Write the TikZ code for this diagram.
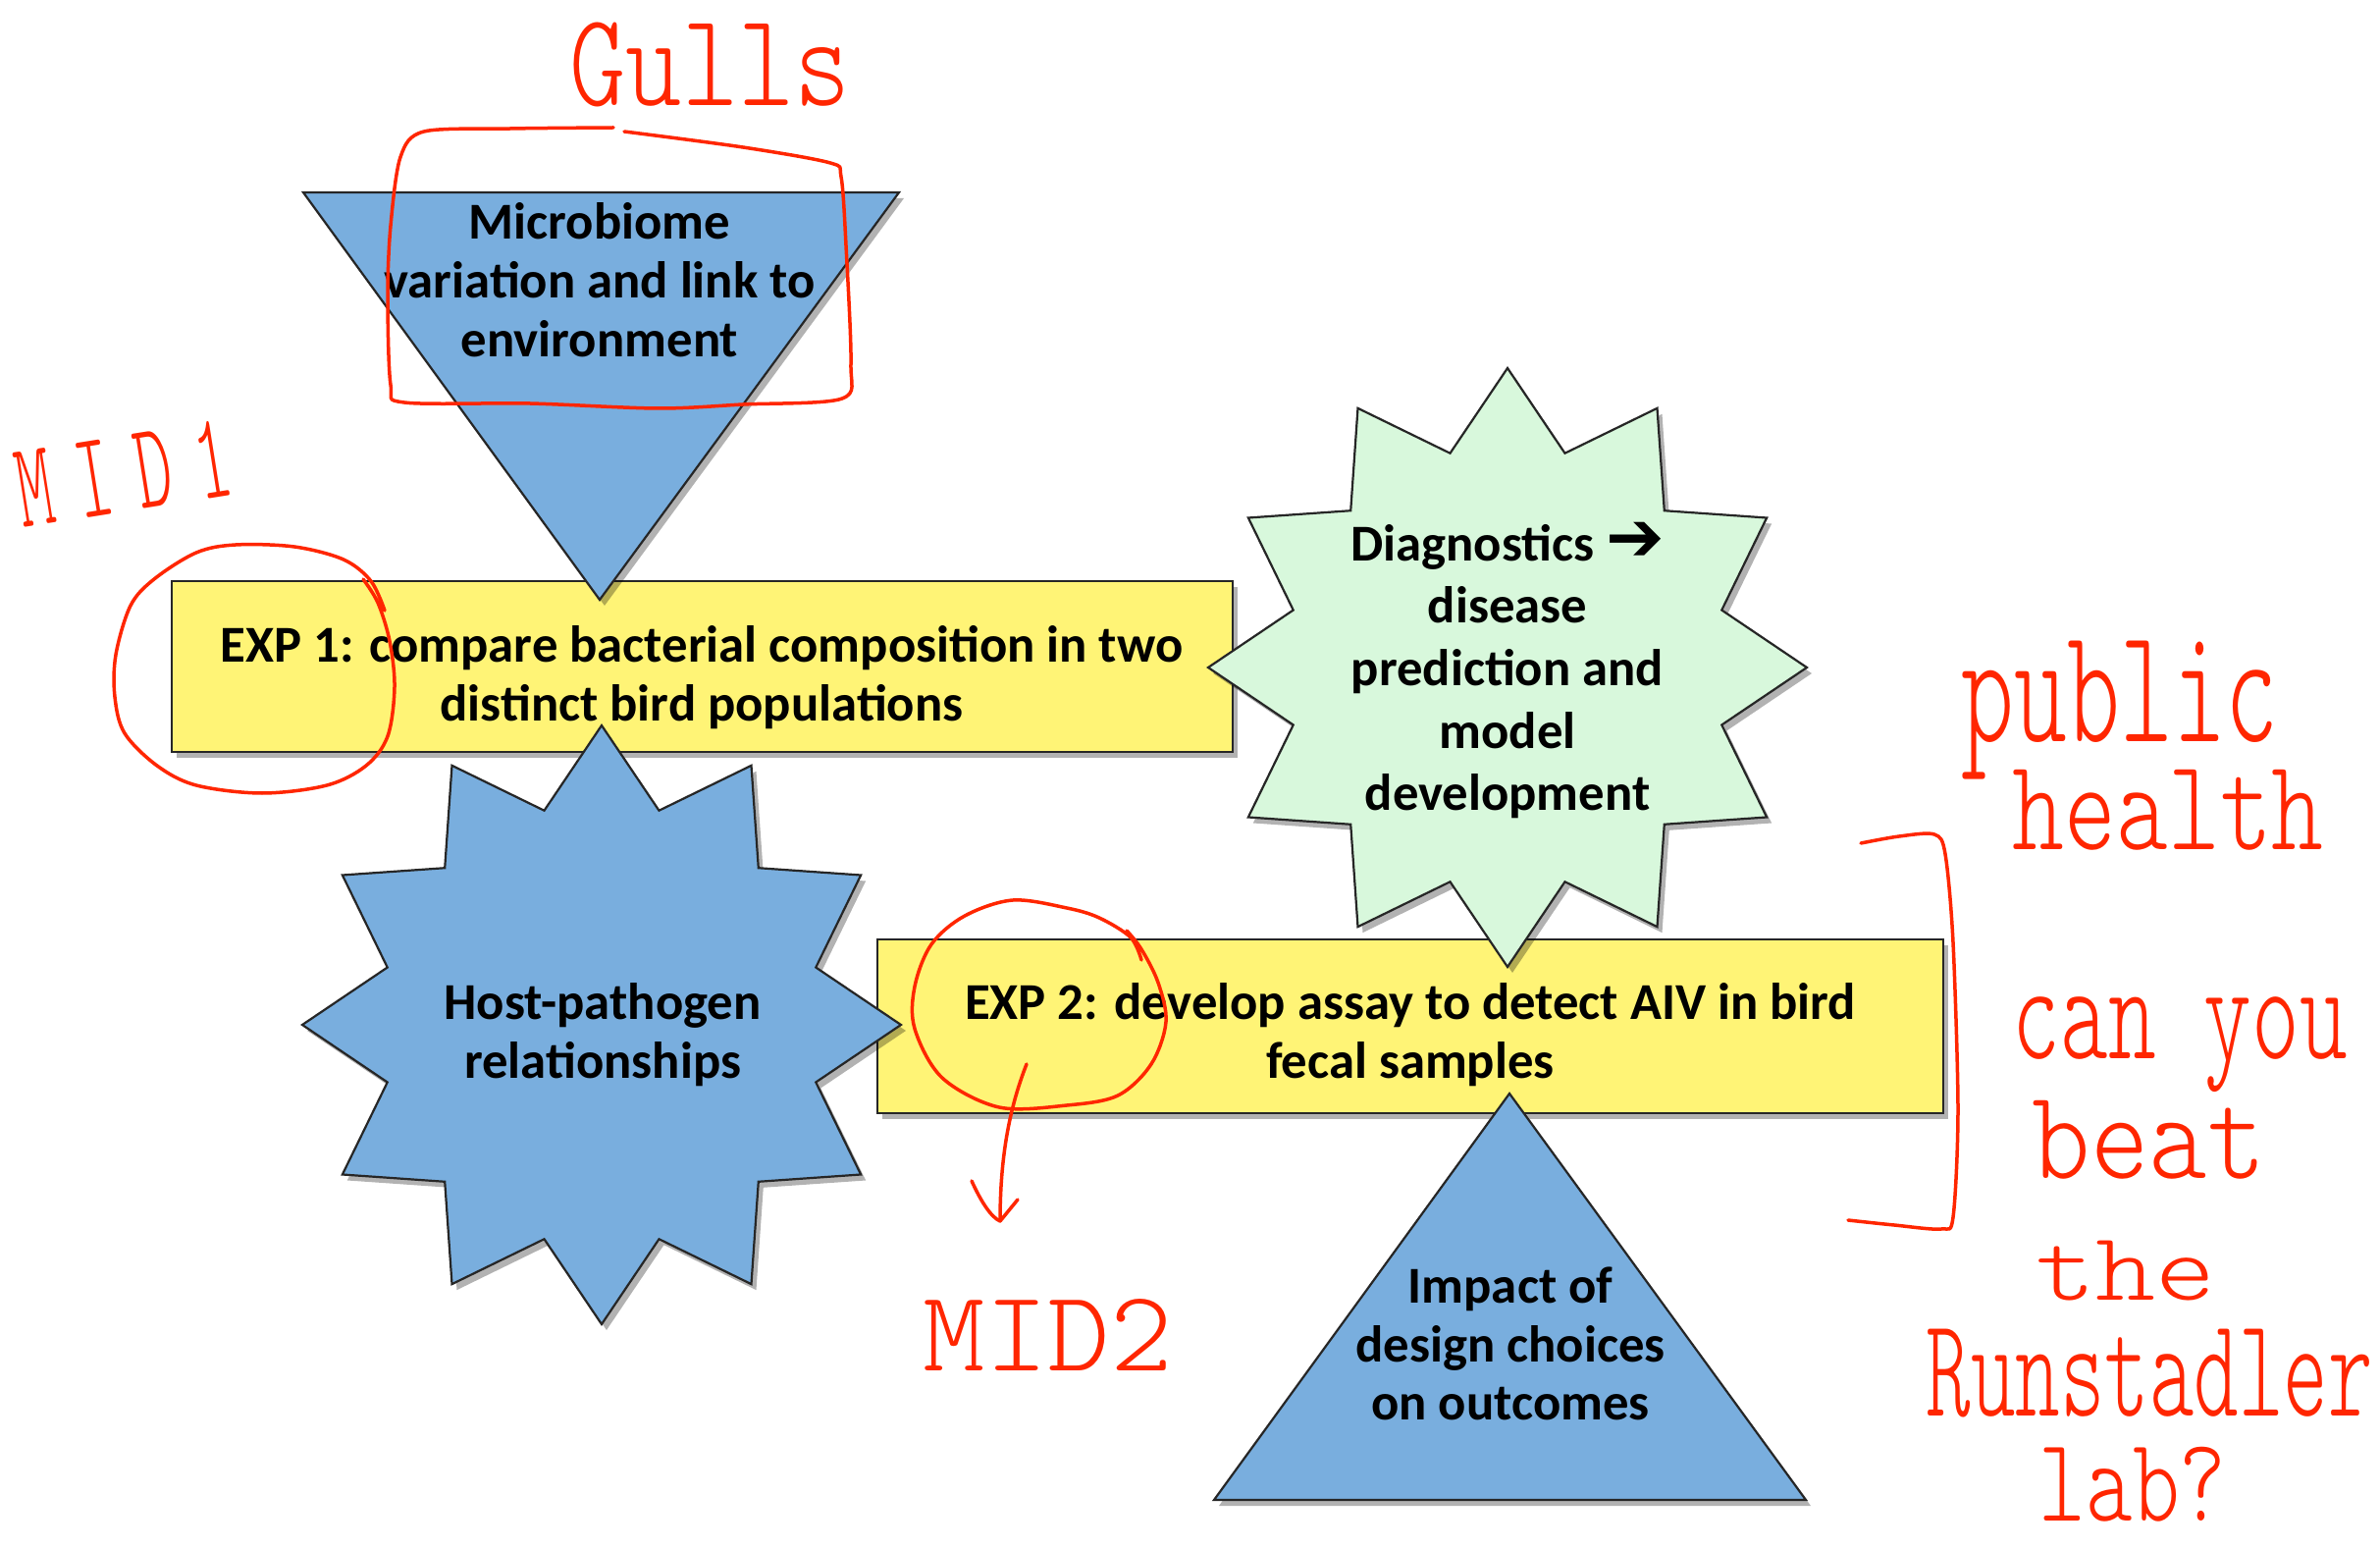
\documentclass[tikz,border=0pt]{standalone}
\usepackage{fontspec}
\setmainfont{Carlito}
\newfontfamily\arrowfont{DejaVu Sans}
\newfontfamily\handfont{Latin Modern Mono Light}
\usepackage{graphicx}
\usetikzlibrary{shapes.geometric,shadows}
\definecolor{yel}{HTML}{FFF476}
\definecolor{blu}{HTML}{79AEDE}
\definecolor{grn}{HTML}{D8F8DC}
\definecolor{annot}{HTML}{FF2600}
\begin{document}
\begin{tikzpicture}[x=0.1mm,y=-0.1mm,
  shad/.style={drop shadow={shadow xshift=0.5mm,shadow yshift=-0.6mm,opacity=0.3,fill=black}},
  boxsty/.style={draw=black!85,line width=0.25mm,fill=yel,shad,inner sep=0},
  bluesty/.style={draw=black!85,line width=0.22mm,fill=blu,shad,line join=miter},
  starsty/.style={star,star points=12,star point ratio=1.35,minimum size=61mm,inner sep=0,
     draw=black!85,line width=0.22mm,shad},
  lbl/.style={font=\bfseries\fontsize{15}{17}\selectfont,align=center,inner sep=0,text=black},
  hand/.style={text=annot,inner sep=0,font=\handfont},
  annotline/.style={draw=annot,line width=0.35mm,line cap=round,line join=round}]
\useasboundingbox[fill=white] (0,0) rectangle (2425,1578);

% experiment boxes
\node[boxsty,minimum width=108.1mm,minimum height=17.4mm] (exp1) at (715.5,679) {};
\node[boxsty,minimum width=108.6mm,minimum height=17.7mm] (exp2) at (1437,1045.5) {};

% top inverted triangle
\coordinate (t1a) at (309,196);
\coordinate (t1b) at (916,196);
\coordinate (t1c) at (611,611);
\path[bluesty] (t1a) -- (t1b) -- (t1c) -- cycle;

% stars
\node[starsty,fill=grn] (diag) at (1536,680) {};
\node[starsty,fill=blu] (host) at (613,1044) {};

% bottom triangle
\coordinate (t2a) at (1538,1114);
\coordinate (t2b) at (1840,1528);
\coordinate (t2c) at (1237,1528);
\path[bluesty] (t2a) -- (t2b) -- (t2c) -- cycle;

% texts
\node[lbl] (microt) at (611,285) {Microbiome\\variation and link to\\environment};
\node[lbl] (exp1t) at (715,690) {EXP 1: compare bacterial composition in two\\distinct bird populations};
\node[lbl,font=\bfseries\fontsize{15}{18.1}\selectfont] (diagt) at (1536,683) {Diagnostics {\arrowfont\bfseries\scalebox{1.35}{➔}}\\disease\\prediction and\\model\\development};
\node[lbl] (hostt) at (614,1054) {Host-pathogen\\relationships};
\node[lbl] (exp2t) at (1437,1054) {EXP 2: develop assay to detect AIV in bird\\fecal samples};
\node[lbl] (impt) at (1539,1369) {Impact of\\design choices\\on outcomes};

% ---- red annotations ----
\node[hand,anchor=north west] (gulls) at (580,22) {\resizebox*{28.6mm}{8.6mm}{Gulls}};
\draw[annotline] plot[smooth,tension=0.5] coordinates {(625,130) (520,131) (432,134) (408,160) (398,230) (395,300) (398,392) (412,410) (540,411) (670,416) (757,412) (858,406) (867,370) (862,250) (857,180) (846,166) (757,150) (636,134)};

\node[hand,rotate=9] (mid1) at (126,482) {\resizebox{22mm}{7.8mm}{M\kern.35em I\kern.35em D\kern.35em 1}};
\draw[annotline] plot[smooth,tension=0.55] coordinates {(392,622) (378,592) (350,570) (300,557) (240,555) (200,563) (157,590) (133,617) (118,667) (117,710) (127,747) (160,780) (200,800) (267,808) (333,800) (373,780) (395,750) (402,700) (397,653) (385,614) (370,590)};

\draw[annotline] plot[smooth,tension=0.55] coordinates {(1163,978) (1152,955) (1120,935) (1087,925) (1032,917) (983,933) (949,962) (932,1005) (932,1048) (960,1098) (1018,1128) (1087,1126) (1139,1116) (1173,1084) (1188,1041) (1180,1001) (1163,967) (1148,948)};
\coordinate (arrs) at (1046,1084);
\coordinate (arre) at (1019,1244);
\draw[annotline] (arrs) .. controls (1028,1130) and (1019,1180) .. (arre);
\draw[annotline] (990,1203) .. controls (1000,1225) and (1010,1240) .. (arre) -- (1037,1222);
\node[hand,anchor=north west] (mid2) at (940,1323) {\resizebox*{25.4mm}{7.3mm}{MID2}};

\draw[annotline] plot[smooth,tension=0.5] coordinates {(1896,859) (1935,852) (1971,850) (1982,870) (1990,960) (1995,1130) (1990,1240) (1978,1252) (1930,1248) (1883,1243)};

\node[hand,anchor=north west] (pub) at (1998,652) {\resizebox*{32.3mm}{14.1mm}{public}};
\node[hand,anchor=north west] (hea) at (2050,784) {\resizebox*{31.7mm}{8.2mm}{health}};
\node[hand,anchor=north west] (can) at (2050,1015) {\resizebox*{34.1mm}{9.7mm}{can you}};
\node[hand,anchor=north west] (beat) at (2070,1121) {\resizebox*{23.8mm}{8.0mm}{beat}};
\node[hand,anchor=north west] (the) at (2074,1263) {\resizebox*{18.3mm}{6.1mm}{the}};
\node[hand,anchor=north west] (runs) at (1962,1353) {\resizebox*{45.5mm}{9.0mm}{Runstadler}};
\node[hand,anchor=north west] (lab) at (2077,1474) {\resizebox*{19.1mm}{7.6mm}{lab?}};
\end{tikzpicture}
\end{document}
